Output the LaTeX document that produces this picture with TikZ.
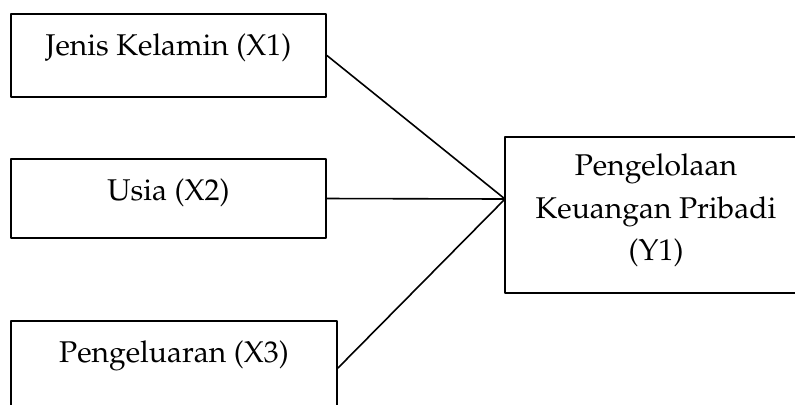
\documentclass[tikz,border=0pt]{standalone}
\usepackage[T1]{fontenc}
\usepackage{mathpazo}
\usetikzlibrary{calc}
\usetikzlibrary{positioning}

\begin{document}
\begin{tikzpicture}[x=0.5pt, y=-0.5pt, line cap = round, line join = round]
\tikzstyle{kotak}=[draw=black, line width=0.95pt, rectangle, inner sep=0pt]
\tikzstyle{teks}=[font=\fontsize{15}{21.5}\selectfont, align=center, inner sep=0pt, anchor=base]
\tikzstyle{garis}=[line width=0.8pt, color=black]
\clip (0,0) rectangle (795,404);
\node[kotak, minimum width=157.5pt, minimum height=41.5pt] (X1) at (168.5,55.5) {};
\node[kotak, minimum width=157.5pt, minimum height=39.5pt] (X2) at (168.5,198.5) {};
\node[kotak, minimum width=163pt, minimum height=47pt] (X3) at (174,368) {};
\node[kotak, minimum width=162pt, minimum height=78pt] (Y1) at (667,215) {};
\node[teks] (tX1) at (168.5,55) {Jenis Kelamin (X1)};
\node[teks] (tX2) at (168.5,200) {Usia (X2)};
\node[teks] (tX3) at (174,362) {Pengeluaran (X3)};
\node[teks] (tY1a) at (656,175) {Pengelolaan};
\node[teks] (tY1b) at (656,218) {Keuangan Pribadi};
\node[teks] (tY1c) at (656,260) {(Y1)};
\coordinate (temu) at (505,199);

\draw[garis] (X1.east) -- (temu);
\draw[garis] (X2.east) -- (temu);
\draw[garis] (X3.east) -- (temu);
\end{tikzpicture}
\end{document}
